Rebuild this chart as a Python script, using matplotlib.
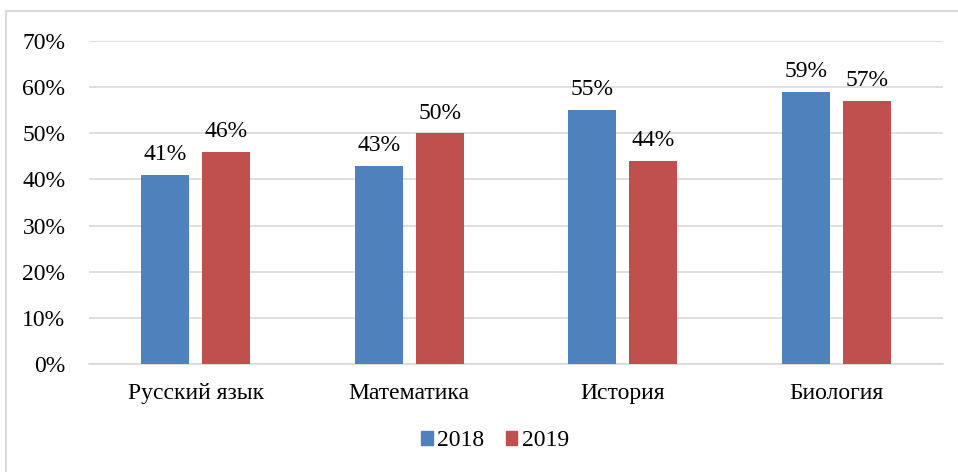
import matplotlib.pyplot as plt
import numpy as np
from matplotlib.patches import Rectangle
from matplotlib.lines import Line2D

# Data
subjects = ["Русский язык", "Математика", "История", "Биология"]
values_2018 = [41, 43, 55, 59]
values_2019 = [46, 50, 44, 57]
years = ["2018", "2019"]

colors = ['#4F81BD', '#C0504D']
plt.rcParams['font.family'] = ['Liberation Serif', 'DejaVu Serif']
fs = 17

fig = plt.figure(figsize=(9.58, 4.72), dpi=100)
ax = fig.add_axes([89/958, 108/472, (943-89)/958, (364-41)/472])

x = np.arange(len(subjects))
width = 0.225
offset = 0.143
bars1 = ax.bar(x - offset, values_2018, width, color=colors[0], label=years[0], zorder=3)
bars2 = ax.bar(x + offset, values_2019, width, color=colors[1], label=years[1], zorder=3)

ax.set_xlim(-0.5, len(subjects) - 0.5)
ax.set_ylim(0, 70)
ax.set_yticks(range(0, 71, 10))
ax.set_yticklabels([f'{v}%' for v in range(0, 71, 10)], fontsize=fs)
ax.set_xticks(x)
ax.set_xticklabels(subjects, fontsize=fs)
ax.tick_params(axis='both', length=0)
ax.tick_params(axis='y', pad=17)
ax.tick_params(axis='x', pad=14)
ax.grid(axis='y', color='#D9D9D9', linewidth=1.2, zorder=0)
for side in ['top', 'right', 'left']:
    ax.spines[side].set_visible(False)
ax.spines['bottom'].set_color('#D9D9D9')
ax.spines['bottom'].set_linewidth(1.2)


def autolabel(rects):
    for rect in rects:
        height = rect.get_height()
        ax.annotate(f'{height:.0f}%',
                    xy=(rect.get_x() + rect.get_width() / 2, height),
                    xytext=(0, 7),
                    textcoords="offset points",
                    ha='center', va='bottom', fontsize=fs)


autolabel(bars1)
autolabel(bars2)

handles = [Rectangle((0, 0), 1, 1, color=c) for c in colors]
fig.legend(handles, years, loc='center', bbox_to_anchor=(495/958, 1 - 441/472),
           ncol=2, frameon=False, fontsize=fs, handlelength=0.5, handleheight=0.5,
           handletextpad=0.2, columnspacing=0.9)

# light outer frame
fig.add_artist(Line2D([6/958, 6/958], [0, 1 - 11/472], color='#D9D9D9', linewidth=1.5,
                      transform=fig.transFigure))
fig.add_artist(Line2D([6/958, 1], [1 - 11/472, 1 - 11/472], color='#D9D9D9', linewidth=1.5,
                      transform=fig.transFigure))

plt.savefig('out.png', dpi=100)
plt.close()
